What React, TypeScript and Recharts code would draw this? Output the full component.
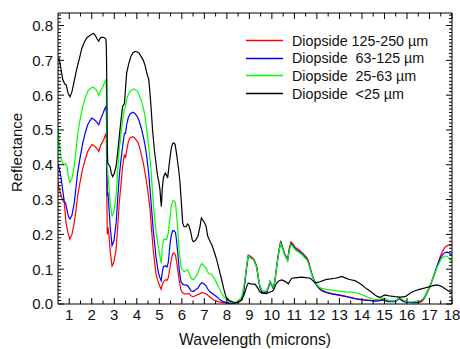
import React from "react";
import { LineChart, Line, XAxis, YAxis, Legend } from "recharts";

// Diopside reflectance spectra, four grain-size fractions.
// Each series is [wavelength (µm), reflectance].

const FONT = '"Liberation Sans", Arial, Helvetica, sans-serif';

const coarse: [number, number][] = [
  [0.5, 0.347], [0.56, 0.33], [0.63, 0.314], [0.7, 0.3], [0.78, 0.29], [0.82, 0.26], [0.86, 0.232],
  [0.94, 0.205], [1.03, 0.186], [1.12, 0.2], [1.22, 0.232], [1.3, 0.27], [1.37, 0.309], [1.48, 0.35],
  [1.6, 0.39], [1.71, 0.415], [1.82, 0.438], [1.92, 0.45], [2.01, 0.458], [2.1, 0.455], [2.19, 0.449],
  [2.25, 0.445], [2.31, 0.438], [2.36, 0.448], [2.41, 0.458], [2.5, 0.468], [2.56, 0.477], [2.63, 0.49],
  [2.65, 0.47], [2.67, 0.3], [2.69, 0.2], [2.72, 0.22], [2.76, 0.2], [2.82, 0.15], [2.9, 0.109],
  [2.98, 0.12], [3.08, 0.155], [3.15, 0.22], [3.22, 0.29], [3.3, 0.345], [3.37, 0.395], [3.45, 0.43],
  [3.5, 0.42], [3.55, 0.44], [3.62, 0.465], [3.7, 0.478], [3.82, 0.481], [3.9, 0.477], [3.96, 0.472],
  [4.04, 0.465], [4.11, 0.453], [4.2, 0.43], [4.29, 0.405], [4.37, 0.375], [4.44, 0.347], [4.52, 0.31],
  [4.59, 0.27], [4.66, 0.21], [4.73, 0.155], [4.8, 0.115], [4.85, 0.088], [4.92, 0.07], [4.97, 0.06],
  [5.03, 0.05], [5.08, 0.042], [5.13, 0.055], [5.18, 0.064], [5.28, 0.07], [5.34, 0.068], [5.4, 0.075],
  [5.48, 0.107], [5.54, 0.13], [5.6, 0.146], [5.66, 0.147], [5.72, 0.14], [5.77, 0.12], [5.82, 0.098],
  [5.88, 0.07], [5.96, 0.04], [6.04, 0.032], [6.11, 0.029], [6.22, 0.029], [6.33, 0.029], [6.42, 0.023],
  [6.51, 0.021], [6.65, 0.025], [6.78, 0.029], [6.9, 0.033], [7.0, 0.031], [7.1, 0.028], [7.25, 0.02],
  [7.4, 0.012], [7.6, 0.007], [7.84, 0.004], [8.1, 0.002], [8.3, 0.002], [8.5, 0.005], [8.66, 0.012],
  [8.74, 0.035], [8.81, 0.069], [8.88, 0.11], [8.95, 0.141], [9.05, 0.137], [9.18, 0.13], [9.26, 0.12],
  [9.33, 0.107], [9.4, 0.075], [9.47, 0.05], [9.55, 0.04], [9.62, 0.035], [9.77, 0.036], [9.85, 0.05],
  [9.92, 0.065], [10.0, 0.055], [10.07, 0.045], [10.14, 0.07], [10.21, 0.107], [10.3, 0.15],
  [10.39, 0.181], [10.47, 0.165], [10.55, 0.148], [10.62, 0.138], [10.7, 0.128], [10.77, 0.16],
  [10.85, 0.179], [10.94, 0.172], [11.03, 0.163], [11.14, 0.158], [11.25, 0.153], [11.36, 0.147],
  [11.47, 0.139], [11.55, 0.133], [11.62, 0.124], [11.7, 0.105], [11.77, 0.088], [11.88, 0.068],
  [11.99, 0.055], [12.1, 0.046], [12.21, 0.04], [12.4, 0.035], [12.66, 0.03], [13.0, 0.026],
  [13.25, 0.023], [13.5, 0.019], [13.69, 0.016], [14.0, 0.013], [14.3, 0.011], [14.58, 0.009],
  [14.75, 0.01], [14.88, 0.013], [15.0, 0.011], [15.17, 0.008], [15.47, 0.008], [15.57, 0.012],
  [15.65, 0.017], [15.75, 0.012], [15.85, 0.008], [16.0, 0.005], [16.21, 0.004], [16.45, 0.004],
  [16.6, 0.005], [16.7, 0.01], [16.8, 0.018], [16.9, 0.032], [17.03, 0.05], [17.14, 0.07], [17.25, 0.09],
  [17.36, 0.113], [17.47, 0.135], [17.58, 0.152], [17.69, 0.163], [17.8, 0.168], [17.9, 0.17], [18.0, 0.168],
];

const medium: [number, number][] = [
  [0.5, 0.403], [0.56, 0.385], [0.63, 0.366], [0.7, 0.33], [0.78, 0.294], [0.84, 0.29], [0.9, 0.27],
  [0.96, 0.252], [1.03, 0.244], [1.12, 0.255], [1.22, 0.29], [1.3, 0.335], [1.37, 0.376], [1.48, 0.42],
  [1.6, 0.462], [1.71, 0.492], [1.82, 0.515], [1.92, 0.527], [2.01, 0.534], [2.1, 0.53], [2.19, 0.525],
  [2.25, 0.52], [2.31, 0.515], [2.36, 0.525], [2.41, 0.534], [2.5, 0.548], [2.56, 0.558], [2.63, 0.568],
  [2.65, 0.55], [2.67, 0.4], [2.69, 0.31], [2.72, 0.32], [2.76, 0.28], [2.82, 0.22], [2.9, 0.168],
  [2.98, 0.18], [3.08, 0.232], [3.15, 0.3], [3.22, 0.366], [3.3, 0.415], [3.37, 0.453], [3.45, 0.49],
  [3.5, 0.49], [3.55, 0.515], [3.62, 0.535], [3.7, 0.546], [3.82, 0.551], [3.9, 0.548], [3.96, 0.544],
  [4.04, 0.536], [4.11, 0.525], [4.2, 0.505], [4.29, 0.481], [4.37, 0.455], [4.44, 0.424], [4.52, 0.38],
  [4.59, 0.328], [4.66, 0.27], [4.73, 0.213], [4.8, 0.17], [4.85, 0.136], [4.92, 0.105], [4.97, 0.088],
  [5.03, 0.075], [5.08, 0.067], [5.13, 0.09], [5.18, 0.107], [5.28, 0.11], [5.34, 0.106], [5.4, 0.12],
  [5.48, 0.175], [5.54, 0.2], [5.6, 0.211], [5.66, 0.21], [5.72, 0.205], [5.77, 0.18], [5.82, 0.146],
  [5.88, 0.1], [5.96, 0.064], [6.04, 0.057], [6.11, 0.055], [6.2, 0.054], [6.26, 0.053], [6.34, 0.045],
  [6.41, 0.038], [6.51, 0.036], [6.6, 0.04], [6.71, 0.045], [6.8, 0.055], [6.88, 0.061], [6.98, 0.058],
  [7.07, 0.053], [7.15, 0.043], [7.25, 0.035], [7.4, 0.028], [7.55, 0.021], [7.7, 0.012], [7.84, 0.007],
  [8.1, 0.003], [8.3, 0.002], [8.5, 0.005], [8.66, 0.012], [8.74, 0.033], [8.81, 0.066], [8.88, 0.106],
  [8.95, 0.136], [9.05, 0.134], [9.18, 0.127], [9.26, 0.117], [9.33, 0.104], [9.4, 0.072], [9.47, 0.047],
  [9.55, 0.035], [9.62, 0.031], [9.77, 0.033], [9.85, 0.048], [9.92, 0.063], [10.0, 0.053], [10.07, 0.043],
  [10.14, 0.068], [10.21, 0.105], [10.3, 0.147], [10.39, 0.177], [10.47, 0.162], [10.55, 0.145],
  [10.62, 0.135], [10.7, 0.125], [10.77, 0.156], [10.85, 0.174], [10.94, 0.168], [11.03, 0.159],
  [11.14, 0.154], [11.25, 0.149], [11.36, 0.143], [11.47, 0.135], [11.55, 0.129], [11.62, 0.12],
  [11.7, 0.102], [11.77, 0.086], [11.88, 0.066], [11.99, 0.053], [12.1, 0.044], [12.21, 0.038],
  [12.4, 0.033], [12.66, 0.029], [13.0, 0.025], [13.25, 0.022], [13.5, 0.018], [13.69, 0.015],
  [14.0, 0.012], [14.3, 0.01], [14.58, 0.008], [14.75, 0.009], [14.88, 0.012], [15.0, 0.01],
  [15.17, 0.007], [15.47, 0.007], [15.57, 0.011], [15.65, 0.016], [15.75, 0.011], [15.85, 0.007],
  [16.0, 0.005], [16.21, 0.004], [16.45, 0.005], [16.6, 0.007], [16.7, 0.013], [16.8, 0.022],
  [16.9, 0.036], [17.03, 0.054], [17.14, 0.073], [17.25, 0.093], [17.36, 0.113], [17.47, 0.13],
  [17.58, 0.142], [17.69, 0.148], [17.8, 0.149], [17.9, 0.146], [18.0, 0.141],
];

const fine: [number, number][] = [
  [0.5, 0.505], [0.56, 0.46], [0.63, 0.424], [0.7, 0.405], [0.78, 0.4], [0.84, 0.403], [0.9, 0.395],
  [0.96, 0.365], [1.03, 0.349], [1.12, 0.36], [1.22, 0.395], [1.3, 0.44], [1.37, 0.486], [1.48, 0.53],
  [1.6, 0.568], [1.71, 0.592], [1.82, 0.611], [1.92, 0.618], [2.03, 0.623], [2.1, 0.621], [2.19, 0.616],
  [2.25, 0.61], [2.31, 0.599], [2.36, 0.607], [2.41, 0.614], [2.5, 0.625], [2.56, 0.635], [2.63, 0.645],
  [2.65, 0.62], [2.67, 0.45], [2.69, 0.395], [2.72, 0.37], [2.76, 0.34], [2.82, 0.29], [2.9, 0.251],
  [2.98, 0.265], [3.08, 0.309], [3.15, 0.38], [3.22, 0.443], [3.3, 0.49], [3.37, 0.529], [3.45, 0.56],
  [3.5, 0.567], [3.55, 0.587], [3.62, 0.602], [3.7, 0.611], [3.85, 0.618], [3.95, 0.615], [4.04, 0.611],
  [4.11, 0.6], [4.19, 0.587], [4.26, 0.57], [4.34, 0.549], [4.41, 0.515], [4.48, 0.481], [4.55, 0.44],
  [4.63, 0.386], [4.7, 0.32], [4.78, 0.251], [4.86, 0.205], [4.93, 0.175], [4.98, 0.155], [5.03, 0.136],
  [5.09, 0.117], [5.13, 0.16], [5.18, 0.184], [5.24, 0.187], [5.3, 0.184], [5.35, 0.19], [5.4, 0.205],
  [5.48, 0.251], [5.54, 0.285], [5.6, 0.297], [5.66, 0.296], [5.72, 0.29], [5.77, 0.255], [5.82, 0.213],
  [5.88, 0.155], [5.96, 0.107], [6.04, 0.097], [6.11, 0.093], [6.2, 0.097], [6.26, 0.098], [6.34, 0.086],
  [6.41, 0.074], [6.51, 0.07], [6.6, 0.076], [6.71, 0.088], [6.8, 0.105], [6.88, 0.116], [6.98, 0.11],
  [7.07, 0.103], [7.18, 0.088], [7.33, 0.085], [7.45, 0.073], [7.55, 0.06], [7.66, 0.045], [7.77, 0.031],
  [7.88, 0.02], [7.99, 0.012], [8.15, 0.006], [8.3, 0.004], [8.5, 0.008], [8.66, 0.021], [8.74, 0.045],
  [8.81, 0.074], [8.88, 0.11], [8.95, 0.138], [9.05, 0.133], [9.18, 0.127], [9.26, 0.116], [9.33, 0.103],
  [9.4, 0.074], [9.47, 0.052], [9.55, 0.04], [9.62, 0.036], [9.77, 0.038], [9.85, 0.052], [9.92, 0.066],
  [10.0, 0.056], [10.07, 0.047], [10.14, 0.07], [10.21, 0.105], [10.3, 0.145], [10.39, 0.174],
  [10.47, 0.16], [10.55, 0.144], [10.62, 0.134], [10.7, 0.124], [10.77, 0.153], [10.85, 0.171],
  [10.94, 0.164], [11.03, 0.156], [11.14, 0.151], [11.25, 0.146], [11.36, 0.14], [11.47, 0.132],
  [11.55, 0.127], [11.62, 0.118], [11.7, 0.1], [11.77, 0.085], [11.88, 0.066], [11.99, 0.056],
  [12.1, 0.049], [12.21, 0.045], [12.4, 0.042], [12.66, 0.04], [13.0, 0.037], [13.25, 0.035],
  [13.5, 0.034], [13.69, 0.033], [13.9, 0.029], [14.14, 0.023], [14.35, 0.017], [14.58, 0.013],
  [14.75, 0.013], [14.88, 0.016], [15.0, 0.017], [15.1, 0.013], [15.25, 0.009], [15.47, 0.009],
  [15.57, 0.013], [15.65, 0.019], [15.75, 0.016], [15.85, 0.011], [16.0, 0.007], [16.21, 0.006],
  [16.45, 0.008], [16.6, 0.01], [16.7, 0.014], [16.8, 0.02], [16.9, 0.035], [17.03, 0.052],
  [17.14, 0.072], [17.25, 0.09], [17.36, 0.108], [17.47, 0.123], [17.58, 0.133], [17.69, 0.138],
  [17.8, 0.136], [17.9, 0.129], [18.0, 0.122],
];

const finest: [number, number][] = [
  [0.5, 0.7], [0.55, 0.705], [0.62, 0.68], [0.71, 0.645], [0.8, 0.632], [0.86, 0.63], [0.95, 0.605],
  [1.03, 0.595], [1.12, 0.61], [1.22, 0.64], [1.33, 0.675], [1.45, 0.705], [1.56, 0.735], [1.67, 0.752],
  [1.78, 0.765], [1.89, 0.77], [2.0, 0.775], [2.07, 0.777], [2.13, 0.774], [2.19, 0.768], [2.25, 0.76],
  [2.31, 0.755], [2.36, 0.762], [2.41, 0.766], [2.5, 0.766], [2.56, 0.765], [2.63, 0.76], [2.65, 0.73],
  [2.67, 0.62], [2.69, 0.45], [2.71, 0.405], [2.76, 0.4], [2.81, 0.395], [2.87, 0.375], [2.93, 0.366],
  [3.0, 0.375], [3.08, 0.395], [3.15, 0.435], [3.22, 0.48], [3.3, 0.53], [3.37, 0.568], [3.45, 0.575],
  [3.5, 0.62], [3.55, 0.664], [3.64, 0.69], [3.74, 0.712], [3.83, 0.722], [3.93, 0.726], [4.02, 0.724],
  [4.11, 0.72], [4.2, 0.71], [4.29, 0.7], [4.37, 0.685], [4.44, 0.664], [4.53, 0.645], [4.58, 0.61],
  [4.63, 0.568], [4.7, 0.5], [4.78, 0.443], [4.86, 0.4], [4.93, 0.366], [4.98, 0.35], [5.03, 0.328],
  [5.06, 0.3], [5.09, 0.28], [5.13, 0.33], [5.18, 0.362], [5.22, 0.37], [5.27, 0.376], [5.32, 0.37],
  [5.37, 0.362], [5.42, 0.39], [5.48, 0.424], [5.54, 0.45], [5.6, 0.462], [5.65, 0.463], [5.7, 0.458],
  [5.76, 0.435], [5.82, 0.405], [5.87, 0.38], [5.92, 0.347], [5.98, 0.29], [6.04, 0.232], [6.1, 0.222],
  [6.19, 0.222], [6.25, 0.23], [6.31, 0.226], [6.36, 0.215], [6.41, 0.203], [6.46, 0.185], [6.51, 0.179],
  [6.6, 0.182], [6.71, 0.194], [6.8, 0.22], [6.87, 0.247], [6.95, 0.24], [7.07, 0.225], [7.15, 0.195],
  [7.25, 0.18], [7.33, 0.17], [7.45, 0.148], [7.55, 0.127], [7.66, 0.098], [7.77, 0.069], [7.87, 0.042],
  [7.96, 0.021], [8.05, 0.013], [8.14, 0.009], [8.3, 0.005], [8.44, 0.004], [8.56, 0.007], [8.66, 0.012],
  [8.74, 0.022], [8.81, 0.035], [8.88, 0.05], [8.95, 0.06], [9.1, 0.057], [9.25, 0.057], [9.36, 0.047],
  [9.47, 0.035], [9.55, 0.031], [9.77, 0.03], [9.92, 0.035], [10.0, 0.036], [10.07, 0.04], [10.14, 0.05],
  [10.21, 0.06], [10.32, 0.067], [10.44, 0.069], [10.58, 0.065], [10.73, 0.058], [10.8, 0.066],
  [10.88, 0.074], [11.1, 0.076], [11.33, 0.077], [11.5, 0.076], [11.7, 0.074], [11.82, 0.067],
  [11.92, 0.06], [12.03, 0.062], [12.14, 0.064], [12.3, 0.068], [12.44, 0.071], [12.6, 0.072],
  [12.8, 0.074], [12.95, 0.076], [13.1, 0.079], [13.25, 0.075], [13.4, 0.071], [13.55, 0.069],
  [13.69, 0.067], [13.85, 0.061], [13.99, 0.055], [14.14, 0.047], [14.29, 0.04], [14.44, 0.033],
  [14.58, 0.026], [14.7, 0.021], [14.8, 0.019], [14.92, 0.023], [15.03, 0.026], [15.15, 0.024],
  [15.25, 0.023], [15.47, 0.021], [15.7, 0.02], [15.92, 0.021], [16.03, 0.026], [16.14, 0.031],
  [16.25, 0.035], [16.36, 0.038], [16.55, 0.042], [16.73, 0.045], [16.9, 0.048], [17.03, 0.05],
  [17.18, 0.053], [17.32, 0.055], [17.45, 0.053], [17.55, 0.05], [17.66, 0.045], [17.77, 0.04],
  [17.88, 0.036], [18.0, 0.033],
];

const seriesNames = [
  "Diopside 125-250 \u00b5m",
  "Diopside  63-125 \u00b5m",
  "Diopside  25-63 \u00b5m",
  "Diopside  <25 \u00b5m",
];
const seriesColors = ["#ff0000", "#0000ff", "#00ff00", "#000000"];
const seriesData = [coarse, medium, fine, finest];

// axis ticks: labelled majors plus unlabelled minors
const xMajorTicks = [1, 2, 3, 4, 5, 6, 7, 8, 9, 10, 11, 12, 13, 14, 15, 16, 17, 18];
const xTicks = xMajorTicks.flatMap((t) => (t < 18 ? [t, t + 0.5] : [t]));
const yMajorTicks = [0, 0.1, 0.2, 0.3, 0.4, 0.5, 0.6, 0.7, 0.8];
const yTicks = Array.from({ length: 84 }, (_, i) => i / 100);

const X_DOMAIN: [number, number] = [0.5, 18];
const Y_DOMAIN: [number, number] = [0, 0.836];

const isMajorX = (v: number) => xMajorTicks.includes(v);
const isMajorY = (v: number) => yMajorTicks.some((t) => Math.abs(t - v) < 1e-6);

function BottomTick(props: any) {
  const { x, y, payload } = props;
  const v = payload.value as number;
  const major = isMajorX(v);
  return (
    <g>
      <line x1={x} x2={x} y1={y} y2={y - (major ? 6 : 3.5)} stroke="#000" />
      {major && (
        <text x={x} y={y + 16} textAnchor="middle" fontSize={15} fontFamily={FONT} fill="#111">
          {v}
        </text>
      )}
    </g>
  );
}

function TopTick(props: any) {
  const { x, y, payload } = props;
  const major = isMajorX(payload.value);
  return <line x1={x} x2={x} y1={y} y2={y + (major ? 6 : 3.5)} stroke="#000" />;
}

function LeftTick(props: any) {
  const { x, y, payload } = props;
  const v = payload.value as number;
  const major = isMajorY(v);
  return (
    <g>
      <line x1={x} x2={x + (major ? 6 : 3)} y1={y} y2={y} stroke="#000" />
      {major && (
        <text x={x - 5} y={y} dy="0.36em" textAnchor="end" fontSize={15} fontFamily={FONT} fill="#111">
          {v.toFixed(1)}
        </text>
      )}
    </g>
  );
}

function RightTick(props: any) {
  const { x, y, payload } = props;
  const major = isMajorY(payload.value);
  return <line x1={x} x2={x - (major ? 6 : 3)} y1={y} y2={y} stroke="#000" />;
}

// legend drawn in series order (Recharts would sort it by name)
function LegendBox() {
  return (
    <div style={{ fontFamily: FONT, fontSize: 14.3, color: "#111" }}>
      {seriesNames.map((name, i) => (
        <div
          key={name}
          style={{ display: "flex", alignItems: "center", height: 17.6, whiteSpace: "pre" }}
        >
          <svg width={37} height={3} style={{ marginRight: 9, display: "block" }}>
            <line x1={0} x2={37} y1={1.5} y2={1.5} stroke={seriesColors[i]} strokeWidth={1.4} />
          </svg>
          <span>{name}</span>
        </div>
      ))}
    </div>
  );
}

export default function App() {
  return (
    <div style={{ position: "absolute", left: 0, top: 0, width: 460, height: 349, background: "#fff" }}>
      <LineChart width={460} height={349} margin={{ top: 12, right: 7, bottom: 0, left: 8 }}>
        <XAxis
          xAxisId="bottom"
          type="number"
          dataKey="x"
          domain={X_DOMAIN}
          allowDataOverflow
          ticks={xTicks}
          interval={0}
          tickSize={0}
          tickMargin={0}
          tickLine={false}
          tick={<BottomTick />}
          axisLine={{ stroke: "#000" }}
          height={45}
          label={{
            value: "Wavelength (microns)",
            position: "insideBottom",
            offset: 4,
            fontSize: 15.7,
            fontFamily: FONT,
            fill: "#111",
          }}
        />
        <XAxis
          xAxisId="top"
          orientation="top"
          type="number"
          dataKey="x"
          domain={X_DOMAIN}
          allowDataOverflow
          ticks={xTicks}
          interval={0}
          tickSize={0}
          tickMargin={0}
          tickLine={false}
          tick={<TopTick />}
          axisLine={{ stroke: "#000" }}
          height={1}
        />
        <YAxis
          yAxisId="left"
          type="number"
          domain={Y_DOMAIN}
          allowDataOverflow
          ticks={yTicks}
          interval={0}
          tickSize={0}
          tickMargin={0}
          tickLine={false}
          tick={<LeftTick />}
          axisLine={{ stroke: "#000" }}
          width={50}
          label={{
            content: () => (
              <text
                x={16.5}
                y={152.5}
                transform="rotate(-90 16.5 152.5)"
                textAnchor="middle"
                dy="0.36em"
                fontSize={15}
                fontFamily={FONT}
                fill="#111"
              >
                Reflectance
              </text>
            ),
          }}
        />
        <YAxis
          yAxisId="right"
          orientation="right"
          type="number"
          domain={Y_DOMAIN}
          allowDataOverflow
          ticks={yTicks}
          interval={0}
          tickSize={0}
          tickMargin={0}
          tickLine={false}
          tick={<RightTick />}
          axisLine={{ stroke: "#000" }}
          width={1}
        />
        {seriesData.map((d, i) => (
          <Line
            key={seriesNames[i]}
            xAxisId="bottom"
            yAxisId="left"
            name={seriesNames[i]}
            data={d.map(([x, y]) => ({ x, y }))}
            dataKey="y"
            type="linear"
            stroke={seriesColors[i]}
            strokeWidth={1.2}
            dot={false}
            activeDot={false}
            isAnimationActive={false}
          />
        ))}
        <Legend
          layout="vertical"
          align="center"
          verticalAlign="middle"
          content={<LegendBox />}
          wrapperStyle={{ top: 32, left: 246, width: "auto", height: "auto" }}
        />
      </LineChart>
    </div>
  );
}
